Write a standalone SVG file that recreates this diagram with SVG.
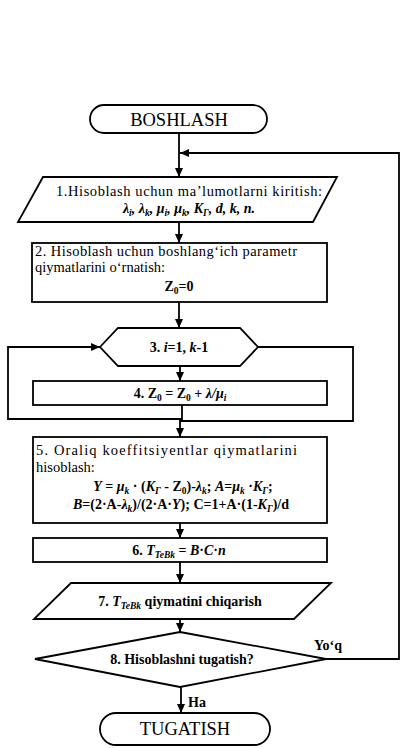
<svg xmlns="http://www.w3.org/2000/svg" width="401" height="748" viewBox="0 0 401 748">
<style>
.box{fill:#fff;stroke:#000;stroke-width:1.8}
.ln{fill:none;stroke:#000;stroke-width:1.8}
.t{font-family:"Liberation Serif","Times New Roman",serif;fill:#000}
.r{font-size:14.5px}
.b{font-size:14px;font-weight:bold}
.big{font-size:18.5px}
.c{text-anchor:middle}
.i{font-style:italic}
.s{font-size:9.5px}
</style>
<defs>
<marker id="ah" viewBox="0 0 9 8" refX="9" refY="4" markerWidth="9" markerHeight="8" markerUnits="userSpaceOnUse" orient="auto">
<path d="M0,0 L9,4 L0,8 z" fill="#000"/>
</marker>
</defs>
<rect width="401" height="748" fill="#fff"/>
<g id="connectors">
<path class="ln" d="M179,133 V177" marker-end="url(#ah)"/>
<path class="ln" d="M326,659 H399 V153 H180" marker-end="url(#ah)"/>
<path class="ln" d="M179,222 V243" marker-end="url(#ah)"/>
<path class="ln" d="M179,302 V328" marker-end="url(#ah)"/>
<path class="ln" d="M180,366 V381" marker-end="url(#ah)"/>
<path class="ln" d="M182,405 V419 H8 V347 H100" marker-end="url(#ah)"/>
<path class="ln" d="M258,347 H353 V421 H180 V437" marker-end="url(#ah)"/>
<path class="ln" d="M180,523 V538" marker-end="url(#ah)"/>
<path class="ln" d="M180,562 V583" marker-end="url(#ah)"/>
<path class="ln" d="M180,619 V632" marker-end="url(#ah)"/>
<path class="ln" d="M181,687 V713" marker-end="url(#ah)"/>
<text class="t b c" x="328" y="650">Yo‘q</text>
<text class="t b" x="188" y="707">Ha</text>
</g>
<g id="start">
<rect class="box" x="90" y="105" width="177" height="28" rx="14"/>
<text class="t big c" x="179" y="126">BOSHLASH</text>
</g>
<g id="n1">
<path class="box" d="M43,177 L337,177 L313,222 L18,222 Z"/>
<text class="t r c" x="189" y="196" textLength="266" lengthAdjust="spacing">1.Hisoblash uchun ma’lumotlarni kiritish:</text>
<text class="t b c i" x="189" y="213">λ<tspan class="s" dy="3">i</tspan><tspan dy="-3">, λ</tspan><tspan class="s" dy="3">k</tspan><tspan dy="-3">, μ</tspan><tspan class="s" dy="3">i</tspan><tspan dy="-3">, μ</tspan><tspan class="s" dy="3">k</tspan><tspan dy="-3">, K</tspan><tspan class="s" dy="3">Γ</tspan><tspan dy="-3">, d, k, n.</tspan></text>
</g>
<g id="n2">
<rect class="box" x="32" y="243" width="295" height="59"/>
<text class="t r" x="35" y="256" textLength="262" lengthAdjust="spacing">2. Hisoblash uchun boshlang‘ich parametr</text>
<text class="t r" x="35" y="272">qiymatlarini o‘rnatish:</text>
<text class="t b c" x="179" y="291">Z<tspan class="s" dy="3">0</tspan><tspan dy="-3">=0</tspan></text>
</g>
<g id="n3">
<path class="box" d="M100,347 L118,328 L240,328 L258,347 L240,366 L118,366 Z"/>
<text class="t b c" x="179" y="352">3. <tspan class="i">i</tspan>=1, <tspan class="i">k</tspan>-1</text>
</g>
<g id="n4">
<rect class="box" x="33" y="381" width="294" height="24"/>
<text class="t b c" x="180" y="398">4. Z<tspan class="s" dy="3">0</tspan><tspan dy="-3"> = Z</tspan><tspan class="s" dy="3">0</tspan><tspan dy="-3"> + </tspan><tspan class="i">λ/μ</tspan><tspan class="s i" dy="3">i</tspan></text>
</g>
<g id="n5">
<rect class="box" x="33" y="437" width="294" height="86"/>
<text class="t r" x="36" y="455" textLength="261" lengthAdjust="spacing">5. Oraliq koeffitsiyentlar qiymatlarini</text>
<text class="t r" x="36" y="472">hisoblash:</text>
<text class="t b c" x="183" y="491"><tspan class="i">Y</tspan> = <tspan class="i">μ</tspan><tspan class="s i" dy="3">k</tspan><tspan dy="-3"> · (</tspan><tspan class="i">K</tspan><tspan class="s i" dy="3">Γ</tspan><tspan dy="-3"> - Z</tspan><tspan class="s" dy="3">0</tspan><tspan dy="-3">)-</tspan><tspan class="i">λ</tspan><tspan class="s i" dy="3">k</tspan><tspan dy="-3">; </tspan><tspan class="i">A</tspan>=<tspan class="i">μ</tspan><tspan class="s i" dy="3">k</tspan><tspan dy="-3"> ·</tspan><tspan class="i">K</tspan><tspan class="s i" dy="3">Γ</tspan><tspan dy="-3">;</tspan></text>
<text class="t b c" x="181" y="509"><tspan class="i">B</tspan>=(2·A-<tspan class="i">λ</tspan><tspan class="s i" dy="3">k</tspan><tspan dy="-3">)/(2·A·</tspan><tspan class="i">Y</tspan>); C=1+A·(1-<tspan class="i">K</tspan><tspan class="s i" dy="3">Γ</tspan><tspan dy="-3">)/d</tspan></text>
</g>
<g id="n6">
<rect class="box" x="33" y="538" width="294" height="24"/>
<text class="t b c" x="179" y="555">6. <tspan class="i">T</tspan><tspan class="s i" dy="3">TeBk</tspan><tspan dy="-3"> = </tspan><tspan class="i">B</tspan>·<tspan class="i">C</tspan>·<tspan class="i">n</tspan></text>
</g>
<g id="n7">
<path class="box" d="M71,583 L331,583 L294,619 L34,619 Z"/>
<text class="t b c" x="180" y="606">7. <tspan class="i">T</tspan><tspan class="s i" dy="3">TeBk</tspan><tspan dy="-3"> qiymatini chiqarish</tspan></text>
</g>
<g id="n8">
<path class="box" d="M180,632 L326,659 L180,687 L35,659 Z"/>
<text class="t b c" x="182" y="664">8. Hisoblashni tugatish?</text>
</g>
<g id="end">
<rect class="box" x="100" y="713" width="170" height="32" rx="16"/>
<text class="t big c" x="185" y="735">TUGATISH</text>
</g>
</svg>
